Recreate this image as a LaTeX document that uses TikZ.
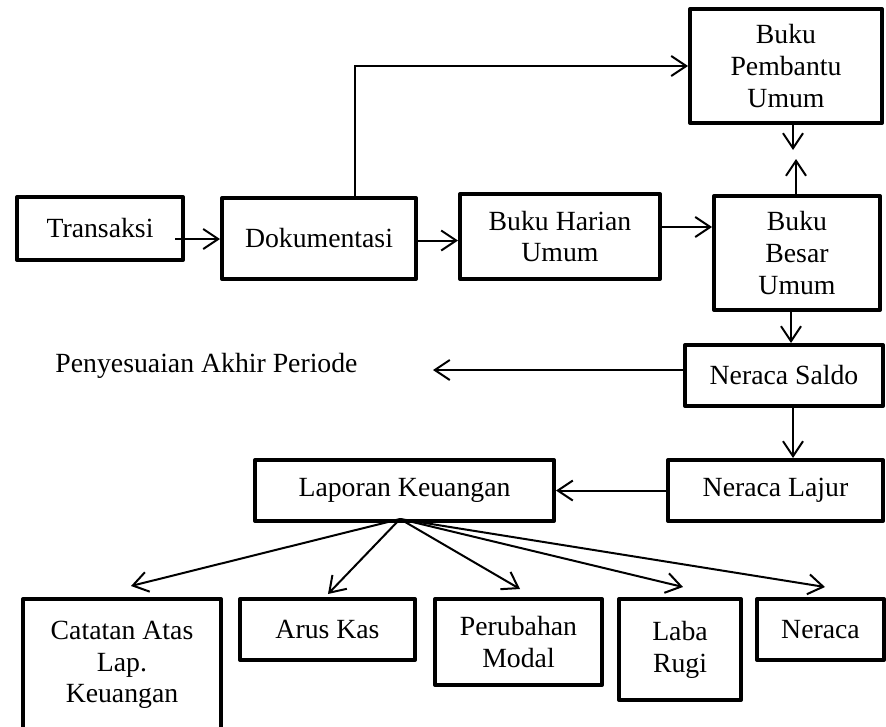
\documentclass[tikz,border=0pt]{standalone}
\usepackage{fontspec}
\setmainfont{Liberation Serif}
\usetikzlibrary{arrows.meta,calc}
\begin{document}
\begin{tikzpicture}[x=1pt,y=-1pt,
  box/.style={draw=black,line width=4pt,line join=round,rectangle,inner sep=2pt,
    align=center,font=\fontsize{27.75}{31.75}\selectfont},
  arr/.style={line width=2pt,-{Straight Barb[length=15pt,width=20pt]}},
  lbl/.style={font=\fontsize{27.75}{31.75}\selectfont,inner sep=0pt}]
\useasboundingbox (0,0) rectangle (886,726);
% boxes
\node[box,minimum width=166pt,minimum height=63pt] (trans) at (100,228.5) {Transaksi};
\node[box,minimum width=194pt,minimum height=81pt] (dok) at (319,238.5) {Dokumentasi};
\node[box,minimum width=200pt,minimum height=85pt] (harian) at (560,236.5) {Buku Harian\\Umum};
\node[box,minimum width=166pt,minimum height=114pt] (besar) at (797,253) {Buku\\Besar\\Umum};
\node[box,minimum width=192pt,minimum height=114pt] (pembantu) at (786,66) {Buku\\Pembantu\\Umum};
\node[box,minimum width=198pt,minimum height=61pt] (saldo) at (784,375.5) {Neraca Saldo};
\node[box,minimum width=215pt,minimum height=61pt] (lajur) at (775.5,490.5) {Neraca Lajur};
\node[box,minimum width=299pt,minimum height=61pt] (lap) at (404.5,490.5) {Laporan Keuangan};
\node[box,minimum width=198pt,minimum height=132pt] (catatan) at (122,665) {Catatan Atas\\Lap.\\Keuangan};
\node[box,minimum width=175pt,minimum height=61pt] (arus) at (327.5,629.5) {Arus Kas};
\node[box,minimum width=167pt,minimum height=86pt] (perubahan) at (518.5,642) {Perubahan\\Modal};
\node[box,minimum width=122pt,minimum height=101pt] (laba) at (680,649.5) {Laba\\Rugi};
\node[box,minimum width=127pt,minimum height=61pt] (neraca) at (820.5,629.5) {Neraca};
% free text
\node[lbl,anchor=base] (penyesuaian) at (206.5,372) {Penyesuaian Akhir Periode};
% coordinates
\coordinate (a1s) at ([xshift=-10pt,yshift=-10.5pt]trans.east);
\coordinate (a2s) at ([yshift=-2pt]dok.east);
\coordinate (a3s) at ([yshift=9.5pt]harian.east);
\coordinate (a4s) at ([xshift=36pt]dok.north);
\coordinate (a5s) at ([xshift=7pt]pembantu.south);
\coordinate (a5e) at ([xshift=7pt,yshift=-25pt]pembantu.south);
\coordinate (a6s) at ([xshift=-1pt]besar.north);
\coordinate (a6e) at ([xshift=-1pt,yshift=35pt]besar.north);
\coordinate (a7s) at ([xshift=-6pt]besar.south);
\coordinate (a8s) at ([yshift=5.5pt]saldo.west);
\coordinate (pen) at (433,370);
\coordinate (a9s) at ([xshift=9pt]saldo.south);
\coordinate (fan) at (400,519);
\coordinate (tc) at (131,586);
\coordinate (ta) at (328,594);
\coordinate (tp) at (520,589);
\coordinate (tl) at (683,587);
\coordinate (tn) at (825,587);
% connectors
\draw[arr] (a1s) -- (a1s -| dok.west);
\draw[arr] (a2s) -- (a2s -| harian.west);
\draw[arr] (a3s) -- (a3s -| besar.west);
\draw[arr] (a4s) |- (pembantu.west);
\draw[arr] (a5s) -- (a5e);
\draw[arr] (a6s) -- (a6e);
\draw[arr] (a7s) -- (a7s |- saldo.north);
\draw[arr] (a8s) -- (pen);
\draw[arr] (a9s) -- (a9s |- lajur.north);
\draw[arr] (lajur.west) -- (lajur.west -| lap.east);
\draw[arr] (fan) -- (tc);
\draw[arr] (fan) -- (ta);
\draw[arr] (fan) -- (tp);
\draw[arr] (fan) -- (tl);
\draw[arr] (fan) -- (tn);
\end{tikzpicture}
\end{document}
